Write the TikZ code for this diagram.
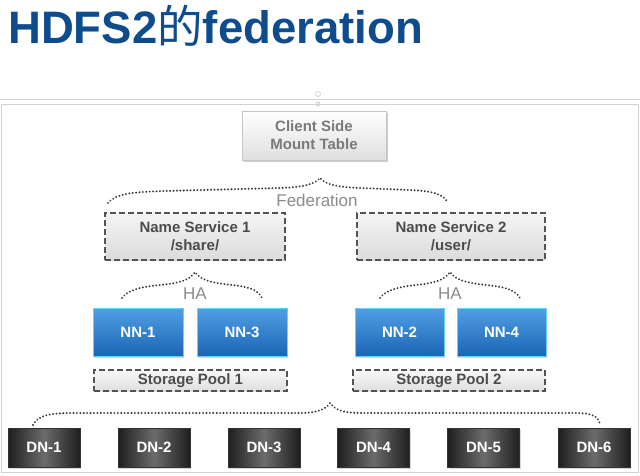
\documentclass[tikz,border=0pt]{standalone}
\usepackage{fontspec}
\setmainfont{Liberation Sans}
\newfontfamily\cjk{Noto Sans CJK SC}
\usetikzlibrary{shadows}
\definecolor{titleblue}{HTML}{0E4C8E}
\definecolor{txtgrey}{HTML}{7A7A7A}
\definecolor{brgrey}{HTML}{8C8C8C}
\tikzset{
  x=1pt, y=1pt,
  boxfont/.style={font=\fontsize{15}{18}\selectfont\bfseries},
  clientbox/.style={boxfont, draw=gray!45, top color=white, bottom color=gray!25, drop shadow={opacity=0.4,shadow xshift=2pt,shadow yshift=-2pt},
    minimum width=144pt, minimum height=49pt, inner sep=0pt, align=center, text=txtgrey},
  nsbox/.style={boxfont, draw=gray!65!black, line width=1.1pt, dash pattern=on 6pt off 3pt, top color=gray!8, bottom color=gray!28,
    minimum height=47pt, inner sep=0pt, align=center, text=gray!60!black},
  nnbox/.style={boxfont, draw=blue!30!cyan!60, line width=0.6pt, top color={rgb,255:red,80;green,160;blue,228}, bottom color={rgb,255:red,28;green,100;blue,180},
    drop shadow={opacity=0.3,shadow xshift=1pt,shadow yshift=-1.5pt},
    minimum width=90pt, minimum height=48pt, inner sep=0pt, text=white},
  poolbox/.style={boxfont, draw=gray!65!black, line width=1.1pt, dash pattern=on 6pt off 3pt, top color=gray!6, bottom color=gray!25,
    minimum height=21pt, inner sep=0pt, text=gray!60!black},
  dnbox/.style={boxfont, draw=gray!40!black, left color=black!88, right color=black!88, middle color=black!58,
    drop shadow={opacity=0.3,shadow xshift=1pt,shadow yshift=-1.5pt},
    minimum width=72pt, minimum height=39pt, inner sep=0pt, text=white},
  brace/.style={draw=black!80, line width=2.1pt, dash pattern=on 0.01pt off 3.4pt, line cap=round},
  bracelabel/.style={text=brgrey, font=\fontsize{17}{19}\selectfont, inner sep=1pt},
  framel/.style={draw=gray!35, line width=0.8pt}
}
\begin{document}
\begin{tikzpicture}
\useasboundingbox (0,0) rectangle (640,-476);
\fill[white] (0,0) rectangle (640,-476);
% title
\node[anchor=base west, inner sep=0pt, text=titleblue, font=\fontsize{45.5}{50}\selectfont\bfseries] (title) at (8,-44) {HDFS2{\cjk\mdseries 的}federation};
% selection frame
\draw[framel] (0,-99) -- (640,-99);
\draw[framel] (1,-104) rectangle (638,-472);
\draw[framel] (318,-94) circle (2.5pt);
\draw[framel] (316.5,-102.5) rectangle (319.5,-105.5);
% nodes
\node[clientbox] (client) at (314,-135.5) {Client Side\\Mount Table};
\node[nsbox, minimum width=180pt] (ns1) at (195,-236.5) {Name Service 1\\/share/};
\node[nsbox, minimum width=188pt] (ns2) at (451,-236.5) {Name Service 2\\/user/};
\node[nnbox] (nn1) at (138,-332) {NN-1};
\node[nnbox] (nn3) at (242,-332) {NN-3};
\node[nnbox, minimum width=89pt] (nn2) at (399.5,-332) {NN-2};
\node[nnbox, minimum width=89pt] (nn4) at (501.5,-332) {NN-4};
\node[poolbox, minimum width=193pt] (sp1) at (190.5,-380.5) {Storage Pool 1};
\node[poolbox, minimum width=192pt] (sp2) at (449,-380.5) {Storage Pool 2};
\node[dnbox] (dn1) at (44,-447.5) {DN-1};
\node[dnbox] (dn2) at (154,-447.5) {DN-2};
\node[dnbox] (dn3) at (264,-447.5) {DN-3};
\node[dnbox] (dn4) at (373.5,-447.5) {DN-4};
\node[dnbox] (dn5) at (483.5,-447.5) {DN-5};
\node[dnbox] (dn6) at (594,-447.5) {DN-6};
% brace labels
\node[bracelabel] (fed) at (317,-200) {Federation};
\node[bracelabel] (ha1) at (195,-294) {HA};
\node[bracelabel] (ha2) at (450,-294) {HA};
% brace coordinates
\coordinate (f0) at (108,-203); \coordinate (fp) at (320,-178); \coordinate (f1) at (448,-203);
\coordinate (h0) at (122,-298); \coordinate (hp) at (195,-272); \coordinate (h1) at (262,-298);
\coordinate (k0) at (380,-298); \coordinate (kp) at (450,-272); \coordinate (k1) at (520,-298);
\coordinate (d0) at (33,-425); \coordinate (dp) at (330,-403); \coordinate (d1) at (600,-424);
% braces
\draw[brace] (f0) .. controls (116,-193) and (135,-192) .. (165,-191) -- (280,-188) .. controls (305,-187) and (315,-184) .. (fp)
  .. controls (325,-184) and (335,-187) .. (360,-188) -- (410,-190) .. controls (435,-191) and (444,-195) .. (f1);
\draw[brace] (h0) .. controls (128,-290) and (140,-287) .. (160,-285) .. controls (180,-283) and (190,-280) .. (hp)
  .. controls (200,-280) and (212,-283) .. (232,-285) .. controls (250,-287) and (258,-290) .. (h1);
\draw[brace] (k0) .. controls (386,-290) and (398,-287) .. (416,-285) .. controls (435,-283) and (445,-280) .. (kp)
  .. controls (455,-280) and (467,-283) .. (486,-285) .. controls (506,-287) and (515,-290) .. (k1);
\draw[brace] (d0) .. controls (38,-415) and (50,-413) .. (75,-413) -- (300,-413) .. controls (318,-413) and (326,-409) .. (dp)
  .. controls (334,-409) and (342,-413) .. (360,-413) -- (575,-413) .. controls (592,-413) and (598,-416) .. (d1);
\end{tikzpicture}
\end{document}
